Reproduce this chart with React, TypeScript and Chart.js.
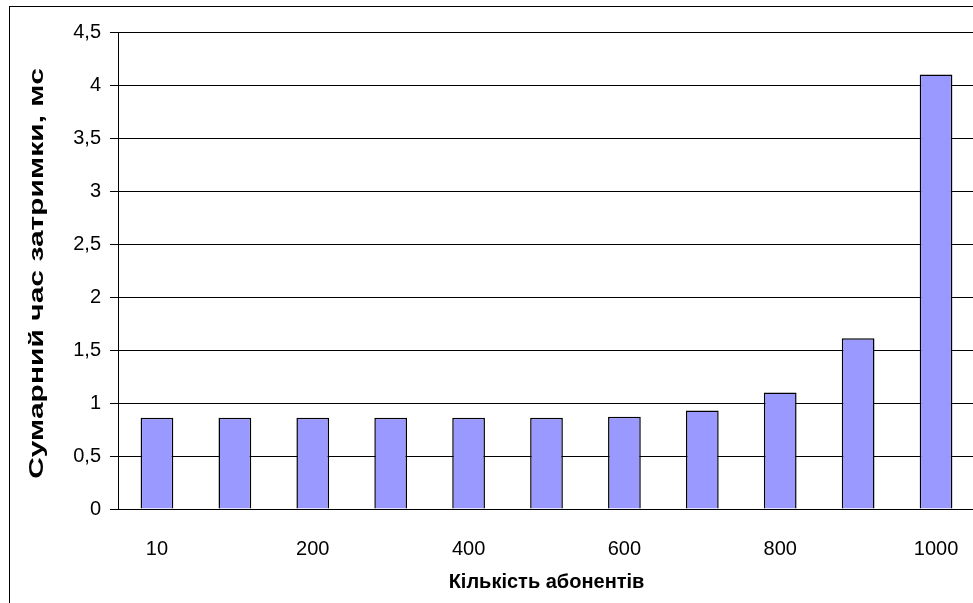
import React, { useEffect, useRef } from 'react';
import { Chart, registerables } from 'chart.js';

Chart.register(...registerables);

const categories = ['10', '100', '200', '300', '400', '500', '600', '700', '800', '900', '1000'];
const delayValues = [0.86, 0.86, 0.86, 0.86, 0.86, 0.86, 0.87, 0.93, 1.1, 1.61, 4.1];
const yMin = 0;
const yMax = 4.5;
const yStep = 0.5;
const xTitle = 'Кількість абонентів';
const yTitle = 'Сумарний час затримки, мс';

const FONT = '"Liberation Sans", Arial, sans-serif';
const CW = 1000;
const CH = 640;

const framePlugin = {
  id: 'frameAndTitles',
  beforeDraw(chart: any) {
    const ctx = chart.ctx;
    ctx.save();
    ctx.fillStyle = '#ffffff';
    ctx.fillRect(0, 0, chart.width, chart.height);
    ctx.strokeStyle = '#000000';
    ctx.lineWidth = 1;
    ctx.strokeRect(9.5, 6.5, chart.width + 50, chart.height + 50);
    ctx.restore();
  },
  afterDraw(chart: any) {
    const ctx = chart.ctx;
    const area = chart.chartArea;
    ctx.save();
    ctx.fillStyle = '#000000';
    ctx.font = `bold 20px ${FONT}`;
    ctx.textAlign = 'center';
    ctx.textBaseline = 'alphabetic';
    ctx.fillText(xTitle, (area.left + area.right) / 2, 588);
    ctx.translate(43, (area.top + area.bottom) / 2 + 3);
    ctx.rotate(-Math.PI / 2);
    ctx.scale(1.5, 1);
    ctx.fillText(yTitle, 0, 0);
    ctx.restore();
  },
};

export default function App() {
  const ref = useRef<HTMLCanvasElement | null>(null);

  useEffect(() => {
    if (!ref.current) return;
    const chart = new Chart(ref.current, {
      type: 'bar',
      data: {
        labels: categories,
        datasets: [
          {
            data: delayValues,
            backgroundColor: '#9999FF',
            borderColor: '#000000',
            borderWidth: 1.5,
            categoryPercentage: 1,
            barPercentage: 0.42,
          },
        ],
      },
      options: {
        animation: false,
        responsive: false,
        devicePixelRatio: 1,
        layout: { padding: { left: 0, top: 32, right: CW - 975, bottom: 0 } },
        plugins: {
          legend: { display: false },
          tooltip: { enabled: false },
        },
        scales: {
          x: {
            grid: { display: false },
            border: { display: true, color: '#000000', width: 1 },
            ticks: {
              autoSkip: false,
              maxRotation: 0,
              color: '#000000',
              font: { family: FONT, size: 20 },
              padding: 20,
              callback: function (this: any, val: any, idx: number) {
                return idx % 2 === 0 ? this.getLabelForValue(val) : '';
              },
            },
            afterFit: (s: any) => {
              s.height = CH - 509;
            },
          },
          y: {
            min: yMin,
            max: yMax,
            ticks: {
              stepSize: yStep,
              color: '#000000',
              font: { family: FONT, size: 20 },
              padding: 9,
              callback: (v: any) => String(v).replace('.', ','),
            },
            grid: { color: '#000000', lineWidth: 1, tickLength: 8, drawTicks: true },
            border: { display: true, color: '#000000', width: 1 },
            afterFit: (s: any) => {
              s.width = 118;
            },
          },
        },
      },
      plugins: [framePlugin],
    });
    return () => chart.destroy();
  }, []);

  return (
    <div
      style={{
        position: 'fixed',
        left: 0,
        top: 0,
        width: 973,
        height: 603,
        overflow: 'hidden',
        background: '#ffffff',
      }}
    >
      <canvas
        ref={ref}
        width={CW}
        height={CH}
        style={{ position: 'absolute', left: 0, top: 0, width: CW, height: CH, display: 'block' }}
      />
    </div>
  );
}
